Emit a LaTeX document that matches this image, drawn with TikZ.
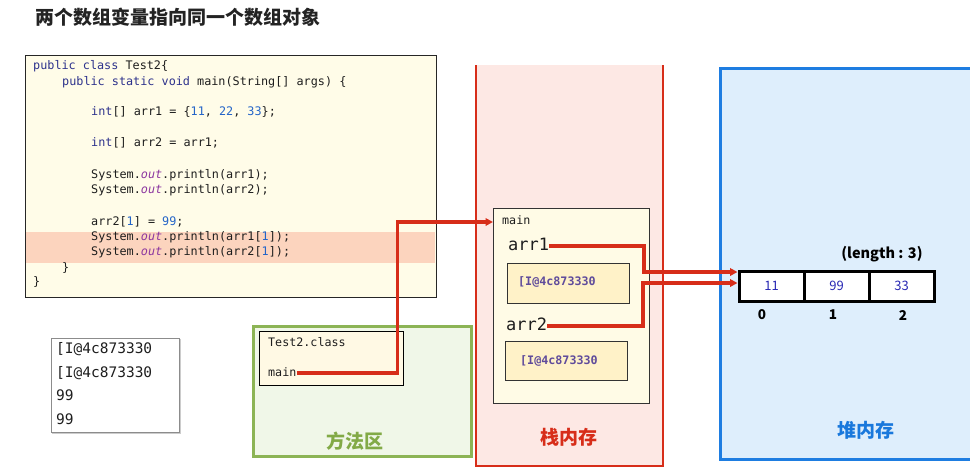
\documentclass[tikz,border=0pt]{standalone}
\usepackage{fontspec}
\setmonofont{DejaVu Sans Mono}
\newfontfamily\cjk{Noto Sans CJK SC}
\usetikzlibrary{arrows.meta}
\definecolor{titlec}{RGB}{35,35,35}
\definecolor{codefill}{RGB}{255,252,232}
\definecolor{hlfill}{RGB}{252,212,190}
\definecolor{kwc}{RGB}{45,50,140}
\definecolor{numc}{RGB}{35,100,200}
\definecolor{outc}{RGB}{140,55,160}
\definecolor{txtc}{RGB}{30,30,30}
\definecolor{refred}{RGB}{215,45,25}
\definecolor{stackfill}{RGB}{253,232,228}
\definecolor{greenline}{RGB}{140,180,85}
\definecolor{greenfill}{RGB}{240,247,232}
\definecolor{greentext}{RGB}{130,170,70}
\definecolor{blueline}{RGB}{30,125,225}
\definecolor{bluefill}{RGB}{222,238,252}
\definecolor{bluetext}{RGB}{25,120,220}
\definecolor{framefill}{RGB}{255,251,230}
\definecolor{innerfill}{RGB}{255,242,200}
\definecolor{addrc}{RGB}{95,75,155}
\definecolor{cellnum}{RGB}{40,40,180}
\definecolor{classfill}{RGB}{255,249,228}
\newcommand\ckw[1]{\textcolor{kwc}{#1}}
\newcommand\cnum[1]{\textcolor{numc}{#1}}
\newcommand\cout{\textcolor{outc}{\itshape out}}
\begin{document}
\begin{tikzpicture}[x=1pt,y=-1pt,
  codeline/.style={font=\ttfamily\fontsize{11.8}{14}\selectfont, text=txtc, anchor=west, inner sep=0pt, text height=8.5pt, text depth=2.5pt},
  consoleline/.style={font=\ttfamily\fontsize{14.5}{16}\selectfont, text=txtc, anchor=west, inner sep=0pt, text height=10.5pt, text depth=3pt},
  smallmono/.style={font=\ttfamily\fontsize{11.7}{14}\selectfont, text=txtc, anchor=west, inner sep=0pt, text height=8.5pt, text depth=2.5pt},
  varname/.style={font=\ttfamily\fontsize{17}{20}\selectfont, text=txtc, anchor=west, inner sep=0pt, text height=12pt, text depth=3pt},
  addrtext/.style={font=\ttfamily\bfseries\fontsize{11.7}{14}\selectfont, text=addrc, anchor=west, inner sep=0pt, text height=8.5pt, text depth=2.5pt},
  innerbox/.style={draw=black!80, fill=innerfill, line width=1pt, anchor=north west, inner sep=0pt},
  areatitle/.style={font=\cjk\bfseries\fontsize{19}{22}\selectfont, inner sep=0pt},
  cellbox/.style={draw=black, fill=white, line width=3pt, minimum width=65pt, minimum height=30pt, inner sep=0pt, font=\cjk\fontsize{13}{15}\selectfont, text=cellnum},
  idx/.style={font=\cjk\bfseries\fontsize{13.5}{15}\selectfont, inner sep=0pt},
  ref/.style={draw=refred, line width=3.2pt, line join=miter},
  reftip/.style={ref, -{Triangle[length=7.5pt,width=7.5pt]}}
]
\useasboundingbox[fill=white] (0,0) rectangle (970,472);

% title
\node[font=\cjk\bfseries\fontsize{19}{22}\selectfont, text=titlec, anchor=west, inner sep=0pt] (title) at (35,17) {两个数组变量指向同一个数组对象};

% areas
\fill[stackfill] (476,65) rectangle (663,466);
\draw[refred, line width=2.8pt, line join=miter] (476,65) -- (476,466) -- (663,466) -- (663,65);
\node[areatitle, text=refred] (stacklabel) at (569,437) {栈内存};

\node[draw=blueline, fill=bluefill, line width=2.8pt, minimum width=270pt, minimum height=391pt, anchor=north west, inner sep=0pt] (heap) at (719,67) {};
\node[areatitle, text=bluetext] (heaplabel) at (866,430) {堆内存};

\node[draw=greenline, fill=greenfill, line width=2.8pt, minimum width=218pt, minimum height=130pt, anchor=north west, inner sep=0pt] (method) at (252,325) {};
\node[areatitle, text=greentext] (methodlabel) at (355,441) {方法区};

% code box
\fill[codefill] (25,55) rectangle (436,297);
\fill[hlfill] (25.7,232) rectangle (435.3,263);
\node[draw=black!85, line width=1.3pt, minimum width=411pt, minimum height=242pt, anchor=north west, inner sep=0pt] (codebox) at (25,55) {};
\node[codeline] (l1) at (33,66) {\ckw{public class} Test2\{};
\node[codeline] (l2) at (62,82) {\ckw{public static void} main(String[] args) \{};
\node[codeline] (l3) at (91,112) {\ckw{int}[] arr1 = \{\cnum{11}, \cnum{22}, \cnum{33}\};};
\node[codeline] (l4) at (91,143) {\ckw{int}[] arr2 = arr1;};
\node[codeline] (l5) at (91,175) {System.\cout.println(arr1);};
\node[codeline] (l6) at (91,190) {System.\cout.println(arr2);};
\node[codeline] (l7) at (91,222) {arr2[\cnum{1}] = \cnum{99};};
\node[codeline] (l8) at (91,237) {System.\cout.println(arr1[\cnum{1}]);};
\node[codeline] (l9) at (91,252) {System.\cout.println(arr2[\cnum{1}]);};
\node[codeline] (l10) at (62,268) {\}};
\node[codeline] (l11) at (33,282) {\}};

% console
\node[draw=black!45, fill=white, line width=1pt, minimum width=128pt, minimum height=94pt, anchor=north west, inner sep=0pt] (console) at (51,338) {};
\draw[black!20, line width=1.5pt] (52,433.5) -- (180.5,433.5) -- (180.5,339);
\node[consoleline] (o1) at (56,350) {[I@4c873330};
\node[consoleline] (o2) at (56,374) {[I@4c873330};
\node[consoleline] (o3) at (56,397) {99};
\node[consoleline] (o4) at (56,421) {99};

% Test2.class box
\node[draw=black, fill=classfill, line width=1pt, minimum width=144pt, minimum height=54pt, anchor=north west, inner sep=0pt] (classbox) at (259,331) {};
\node[smallmono] (clsname) at (268,343) {Test2.class};
\node[smallmono] (clsmain) at (268,373) {main};

% stack frame
\node[draw=black!80, fill=framefill, line width=1pt, minimum width=156pt, minimum height=195pt, anchor=north west, inner sep=0pt] (frame) at (493,208) {};
\node[smallmono] (stkmain) at (502,221) {main};
\node[varname] (arr1) at (508,246) {arr1};
\node[innerbox, minimum width=122pt, minimum height=40pt] (box1) at (507,263) {};
\node[addrtext] (addr1) at (518,282) {[I@4c873330};
\node[varname] (arr2) at (506,326) {arr2};
\node[innerbox, minimum width=122pt, minimum height=39pt] (box2) at (505,341) {};
\node[addrtext] (addr2) at (520,361) {[I@4c873330};

% heap array
\node[cellbox] (c0) at (771.5,286) {11};
\node[cellbox] (c1) at (836.5,286) {99};
\node[cellbox] (c2) at (901.5,286) {33};
\node[idx] (i0) at (762,315) {0};
\node[idx] (i1) at (833,315) {1};
\node[idx] (i2) at (903,315) {2};
\node[font=\cjk\bfseries\fontsize{14.5}{16}\selectfont, inner sep=0pt] (len) at (882,254) {(length : 3)};

% connectors
\coordinate (turnA) at (397.5,222);
\coordinate (turnB) at (644,272);
\coordinate (turnC) at (643,283);
\draw[reftip] (clsmain.east) -| (turnA) -- (turnA -| frame.west);
\draw[reftip] (arr1.east) -| (turnB) -- (turnB -| c0.west);
\draw[reftip] (arr2.east) -| (turnC) -- (turnC -| c0.west);
\end{tikzpicture}
\end{document}
